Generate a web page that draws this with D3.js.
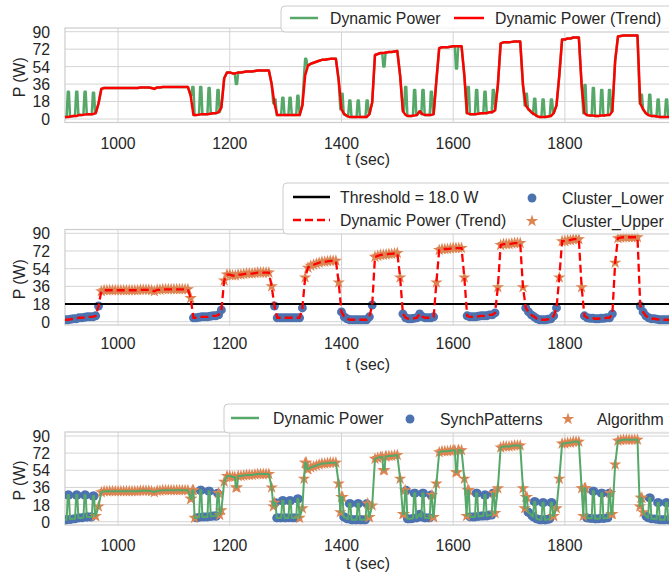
<!DOCTYPE html>
<html><head><meta charset="utf-8">
<script src="https://cdn.jsdelivr.net/npm/d3@7"></script>
<style>
body{margin:0;background:#fff}
svg{display:block}
text{font-family:"Liberation Sans",Arial,Helvetica,sans-serif;fill:#262626}
</style>
</head><body>
<svg id="c" width="669" height="574"></svg>
<script>
// ---------------- data ----------------
const T0 = 905, DT = 5;               // trend sampled every 5 s from t = 905 s
const trendPower = [
  2, 2, 2.5, 3, 3, 4, 4, 4.5, 5, 5,               // 905-950
  5, 6, 16, 31, 32, 32, 32, 32, 32, 32,           // 955-1000
  32, 32, 32, 32, 32, 32, 32, 32.5, 32.5, 32.5,   // 1005-1050
  32.5, 32, 31, 32.5, 32.5, 33, 33, 33, 33, 33,   // 1055-1100
  33, 33, 33, 33, 33, 24, 4, 4, 4.5, 5,           // 1105-1150
  5, 5, 5.5, 6, 6, 7, 12, 42, 48, 48,             // 1155-1200
  47, 47, 48, 48, 48.5, 49, 49, 49, 49.5, 50,     // 1205-1250
  50, 50, 50, 50, 36, 16, 4, 4, 4, 4,             // 1255-1300
  4, 4, 4, 4, 4, 14, 45, 55, 57, 58,              // 1305-1350
  59, 60, 61, 61, 61.5, 62, 62, 62, 40, 10,       // 1355-1400
  5, 3, 2, 2, 2, 2, 2, 2, 2, 5,                   // 1405-1450
  17, 66, 67, 68, 68, 68.5, 69, 69, 69.5, 70,     // 1455-1500
  45, 8, 4, 3, 3, 3.5, 4, 8, 5, 4,                // 1505-1550
  4, 4, 5, 40, 73, 74, 74, 74, 74.5, 75,          // 1555-1600
  75, 75, 75, 45, 6, 5, 5, 5, 5.5, 6,             // 1605-1650
  6, 6, 7, 7, 9, 35, 78, 79, 79, 79,              // 1655-1700
  79.5, 80, 80, 80, 35, 14, 10, 7, 5, 3,          // 1705-1750
  2, 2, 2, 2.5, 3, 6, 14, 45, 82, 82,             // 1755-1800
  83, 83, 84, 84, 84, 35, 6, 4, 3.5, 3.5,         // 1805-1850
  3, 3, 3.5, 3.5, 4, 4, 8, 60, 85, 85.5,          // 1855-1900
  86, 86, 86, 86, 86, 86, 16, 10, 6, 4,           // 1905-1950
  3, 3, 2.5, 2, 2, 2, 2, 2                        // 1955-1990
];
// short power pulses of the raw dynamic power in the idle phases
const spikeTimes = [911, 926, 941, 956, 1134, 1148, 1163, 1179, 1281, 1295, 1308, 1322,
  1401, 1415, 1430, 1446, 1515, 1531, 1546, 1561, 1627, 1642, 1657, 1672,
  1731, 1746, 1761, 1776, 1836, 1851, 1866, 1880, 1937, 1952, 1967, 1982];
const spikePower = [28, 28, 28, 27, 33, 33, 32, 30, 20, 22, 22, 24,
  26, 19, 19, 19, 33, 30, 30, 28, 33, 30, 28, 30,
  26, 21, 20, 20, 35, 32, 30, 30, 25, 25, 20, 20];
// short deviations of the raw dynamic power inside the load phases
const dipTimes = [1212, 1336, 1476, 1606];
const dipPower = [36, 62, 54, 52];
// load phases detected by the algorithm
const riseTimes = [966, 1187, 1332, 1454, 1569, 1680, 1787, 1889];
const fallTimes = [1130, 1272, 1395, 1506, 1621, 1725, 1829, 1932];
const threshold = 18.0;
const yTicks = [0, 18, 36, 54, 72, 90];
const xTicks = [1000, 1200, 1400, 1600, 1800];

// ---------------- derived series ----------------
const trend = trendPower.map((p, i) => ({t: T0 + i * DT, p}));
const events = spikeTimes.map((t, i) => ({t, p: spikePower[i]}))
  .concat(dipTimes.map((t, i) => ({t, p: dipPower[i]})));
const nearest = t => trend[Math.max(0, Math.min(trend.length - 1, Math.round((t - T0) / DT)))].p;
const raw = trend.filter(d => !events.some(e => Math.abs(e.t - d.t) < 3.5)).map(d => ({t: d.t, p: d.p}));
events.forEach(e => {
  raw.push({t: e.t - 3, p: nearest(e.t - 3)}, {t: e.t - 1, p: e.p},
           {t: e.t + 1, p: e.p}, {t: e.t + 3, p: nearest(e.t + 3)});
});
raw.sort((a, b) => a.t - b.t);
const inAlgo = t => riseTimes.some((r, i) => t >= r - 8 && t <= fallTimes[i] + 8);

// ---------------- layout ----------------
const C = {green: "#55a868", red: "#ff0000", blue: "#4c72b0", orange: "#dd8452", grid: "#d4d4d4", spine: "#cccccc"};
const svg = d3.select("#c");
const L = 65, R = 671;
const FS = 17, SX = 0.93;   // font size and slight horizontal condensing
const x = d3.scaleLinear().domain(d3.extent(trend, d => d.t)).range([L, R]);

function txt(parent, tx, ty, s, anchor, rot) {
  const t = parent.append("text")
    .attr("transform", `translate(${tx},${ty})` + (rot ? " rotate(-90)" : "") + ` scale(${SX},1)`)
    .attr("dy", "0.35em").attr("font-size", FS).text(s);
  if (anchor) t.attr("text-anchor", anchor);
  return t;
}

const panels = [
  {y0: 119, y90: 31.7, top: 28, bottom: 122.5, tickY: 143.5, labY: 159.5},
  {y0: 321.7, y90: 233.3, top: 229.5, bottom: 325, tickY: 343.5, labY: 364.5},
  {y0: 521.7, y90: 436, top: 432, bottom: 525, tickY: 545, labY: 563.5}
];

const star = d3.symbol().type(d3.symbolStar).size(48);
const circ = d3.symbol().type(d3.symbolCircle).size(62);

panels.forEach((P, k) => {
  P.y = d3.scaleLinear().domain([0, 90]).range([P.y0, P.y90]);
  const g = svg.append("g");
  g.append("g").selectAll("line").data(yTicks).join("line")
    .attr("x1", L).attr("x2", R).attr("y1", d => P.y(d)).attr("y2", d => P.y(d))
    .attr("stroke", C.grid).attr("stroke-width", 1);
  g.append("g").selectAll("line").data(xTicks).join("line")
    .attr("y1", P.top).attr("y2", P.bottom).attr("x1", d => x(d)).attr("x2", d => x(d))
    .attr("stroke", C.grid).attr("stroke-width", 1);
  g.append("rect").attr("x", L).attr("y", P.top).attr("width", R - L).attr("height", P.bottom - P.top)
    .attr("fill", "none").attr("stroke", C.spine).attr("stroke-width", 1.2);
  yTicks.forEach(d => txt(g, 50, P.y(d), d, "end"));
  xTicks.forEach(d => txt(g, x(d), P.tickY, d, "middle"));
  txt(g, (L + R) / 2, P.labY, "t (sec)", "middle");
  txt(g, 19, (P.top + P.bottom) / 2 + 2, "P (W)", "middle", true);
  svg.append("clipPath").attr("id", "clip" + k).append("rect")
    .attr("x", L).attr("y", P.top - 6).attr("width", R - L).attr("height", P.bottom - P.top + 6);
  P.plot = svg.append("g").attr("clip-path", `url(#clip${k})`);
  P.line = d3.line().x(d => x(d.t)).y(d => P.y(d.p));
});

// ---- panel 1: raw + trend
{
  const P = panels[0];
  P.plot.append("path").datum(raw).attr("d", P.line).attr("fill", "none")
    .attr("stroke", C.green).attr("stroke-width", 2.5).attr("stroke-linejoin", "round");
  P.plot.append("path").datum(trend).attr("d", P.line).attr("fill", "none")
    .attr("stroke", C.red).attr("stroke-width", 2.5).attr("stroke-linejoin", "round");
}
// ---- panel 2: clusters
{
  const P = panels[1];
  P.plot.append("g").selectAll("path").data(trend.filter(d => d.p < threshold)).join("path")
    .attr("transform", d => `translate(${x(d.t)},${P.y(d.p)})`).attr("d", circ).attr("fill", C.blue);
  P.plot.append("g").selectAll("path").data(trend.filter(d => d.p >= threshold)).join("path")
    .attr("transform", d => `translate(${x(d.t)},${P.y(d.p)})`).attr("d", star).attr("fill", C.orange);
  P.plot.append("line").attr("x1", L).attr("x2", R).attr("y1", P.y(threshold)).attr("y2", P.y(threshold))
    .attr("stroke", "#000").attr("stroke-width", 2);
  P.plot.append("path").datum(trend).attr("d", P.line).attr("fill", "none")
    .attr("stroke", C.red).attr("stroke-width", 2.3).attr("stroke-dasharray", "8,4");
}
// ---- panel 3: raw with detected patterns
{
  const P = panels[2];
  P.plot.append("g").selectAll("path").data(raw.filter(d => !inAlgo(d.t))).join("path")
    .attr("transform", d => `translate(${x(d.t)},${P.y(d.p)})`).attr("d", circ).attr("fill", C.blue);
  P.plot.append("g").selectAll("path").data(raw.filter(d => inAlgo(d.t))).join("path")
    .attr("transform", d => `translate(${x(d.t)},${P.y(d.p)})`).attr("d", star).attr("fill", C.orange);
  P.plot.append("path").datum(raw).attr("d", P.line).attr("fill", "none")
    .attr("stroke", C.green).attr("stroke-width", 2).attr("stroke-linejoin", "round");
}

// ---------------- legends ----------------
function box(x0, y0, y1) {
  svg.append("rect").attr("x", x0).attr("y", y0).attr("width", 690 - x0).attr("height", y1 - y0)
    .attr("rx", 4).attr("fill", "#fff").attr("fill-opacity", 0.8).attr("stroke", C.spine).attr("stroke-width", 1);
}
function lineItem(x0, x1, y, color, dash, label, tx) {
  svg.append("line").attr("x1", x0).attr("x2", x1).attr("y1", y).attr("y2", y)
    .attr("stroke", color).attr("stroke-width", 2.5).attr("stroke-dasharray", dash || null);
  txt(svg, tx, y, label);
}
function markItem(cx, y, sym, color, label, tx) {
  svg.append("path").attr("transform", `translate(${cx},${y})`).attr("d", sym).attr("fill", color);
  txt(svg, tx, y, label);
}
box(281, 6, 32);
lineItem(290, 318, 18, C.green, null, "Dynamic Power", 330);
lineItem(454, 484, 18, C.red, null, "Dynamic Power (Trend)", 495);

box(283, 183, 234);
lineItem(293, 330, 197, "#000", null, "Threshold = 18.0 W", 340);
lineItem(293, 330, 220, C.red, "8,4", "Dynamic Power (Trend)", 340);
markItem(532, 198, circ, C.blue, "Cluster_Lower", 562);
markItem(532, 221, star, C.orange, "Cluster_Upper", 562);

box(224, 404, 433);
lineItem(231, 259, 418, C.green, null, "Dynamic Power", 273);
markItem(410, 419, circ, C.blue, "SynchPatterns", 440);
markItem(568, 419, star, C.orange, "Algorithm", 597);
</script>
</body></html>
